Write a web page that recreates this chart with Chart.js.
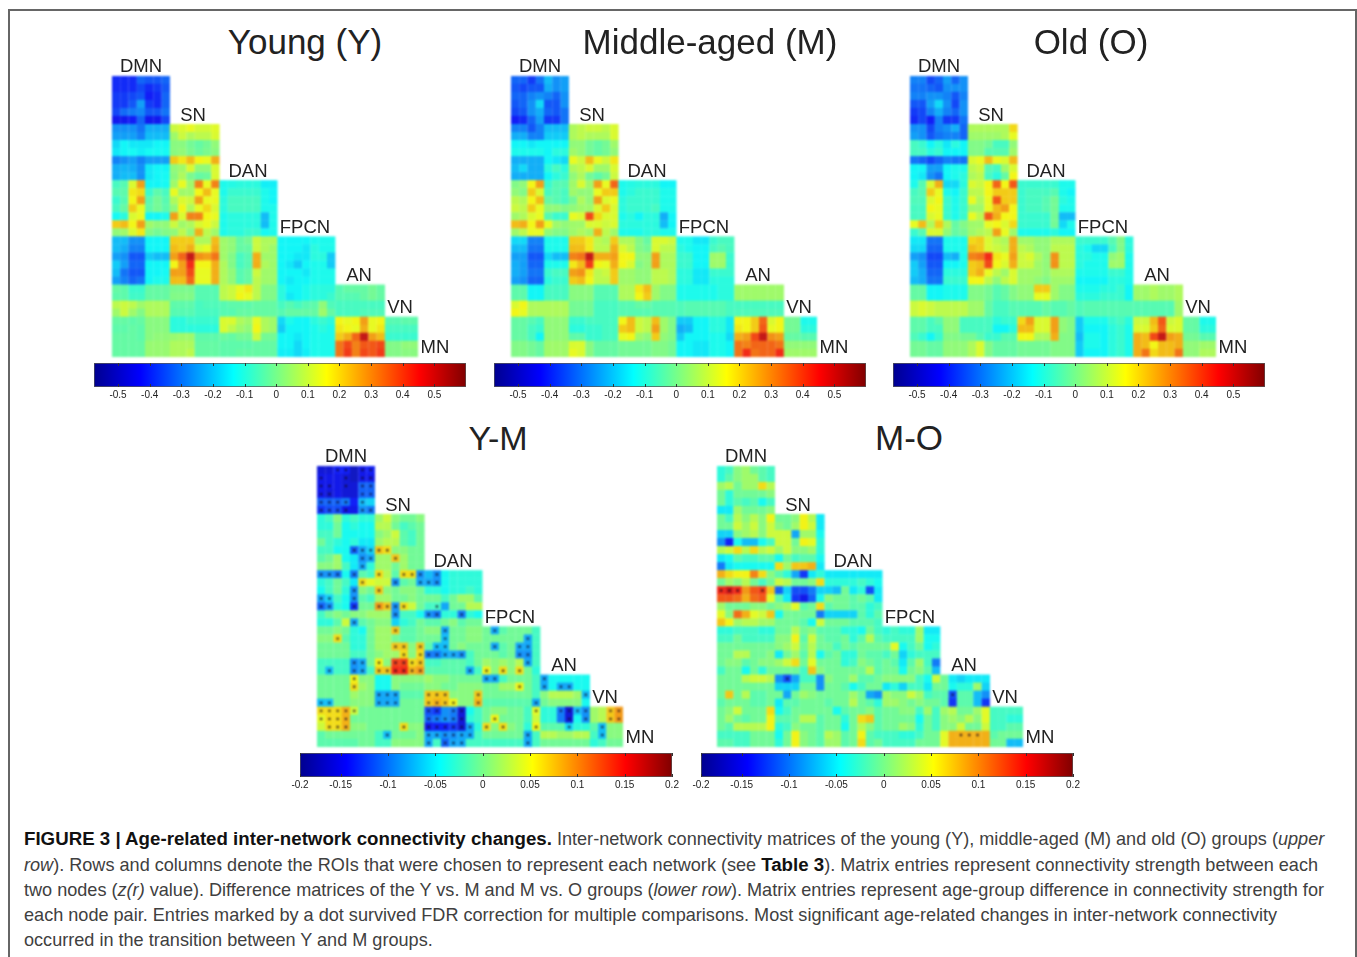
<!DOCTYPE html>
<html>
<head>
<meta charset="utf-8">
<title>Age-related inter-network connectivity changes</title>
<script src="https://cdn.jsdelivr.net/npm/chart.js@4"></script>
<style>
	html, body { margin: 0; padding: 0; background: #fff; }
	body { width: 1357px; height: 957px; position: relative; overflow: hidden; font-family: "Liberation Sans", Arial, sans-serif; }
	#frame { position: absolute; left: 8px; top: 9px; width: 1345px; height: 960px; border: 2px solid #666; box-sizing: content-box; }
	canvas { position: absolute; filter: blur(0.6px); }
	canvas.matrix { filter: blur(1px); }
	.txt { position: absolute; transform: translate(-50%, -50%); white-space: nowrap; color: #222; }
	.cap { position: absolute; left: 24px; white-space: nowrap; font-size: 18.1px; color: #404040; line-height: 20px; }
	.cap b { color: #111; font-size: 18.7px; }
</style>
</head>
<body>
<div id="frame"></div>
<script>
// cell values x100, one list per row
const youngValues = [
	[-42,-42,-42,-34,-36,-36,-34],
	[-42,-42,-42,-38,-42,-40,-36],
	[-40,-40,-38,-36,-44,-42,-34],
	[-40,-40,-36,-26,-40,-42,-34],
	[-38,-33,-31,-29,-36,-36,-32],
	[-46,-46,-44,-34,-46,-46,-38],
	[-28,-28,-28,-32,-24,-24,-24, 12,14,16,13,13,15],
	[-26,-26,-26,-30,-22,-22,-22, 6,12,8,10,10,14],
	[-18,-14,-16,-16,-16,-14,-14, 3,3,0,-2,0,4],
	[-16,-14,-13,-15,-13,-13,-13, 3,4,1,-1,1,3],
	[-30,-28,-26,-30,-26,-26,-26, 24,20,26,18,16,28],
	[-24,-23,-24,-28,-16,-14,-14, 4,6,14,4,4,14],
	[-24,-22,-22,-28,-16,-14,-13, 3,8,1,-2,-1,14],
	[-6,-4,14,30,-14,-14,-13, 6,16,6,34,16,34, -12,-11,-10,-10,-10,-15,-15],
	[-4,-3,20,22,-8,-3,-6, 16,6,6,18,26,16, -12,-8,-8,-8,-8,-12,-14],
	[-8,-4,18,30,-4,0,-4, 8,14,12,30,16,16, -10,-6,-6,-6,-6,-12,-14],
	[-6,-2,24,16,-3,0,-3, 4,18,8,16,22,14, -10,-6,-6,-6,-6,-12,-12],
	[-13,-10,14,16,-14,-14,-12, 30,14,34,34,18,16, -12,-10,-10,-10,-10,-22,-12],
	[24,26,18,30,6,4,4, 12,6,8,14,16,12, -12,-10,-10,-10,-10,-22,-12],
	[4,6,14,20,2,0,2, 4,10,4,28,10,6, -12,-10,-10,-8,-8,-13,-12],
	[-22,-22,-28,-28,-14,-14,-14, 24,24,24,8,8,26, 6,4,-2,0,12,8,8, -14,-14,-14,-14,-12,-12,-12],
	[-22,-24,-30,-30,-14,-14,-14, 26,24,28,14,16,28, 6,4,-2,-2,12,8,6, -14,-14,-14,-16,-10,-12,-12],
	[-26,-28,-36,-36,-20,-22,-22, 30,38,55,32,30,36, 6,2,-6,-4,28,6,6, -14,-14,-16,-16,-10,-10,-20],
	[-20,-26,-34,-34,-14,-14,-14, 18,30,46,18,18,28, 8,2,-6,-4,28,8,6, -14,-16,-20,-14,-12,-12,-20],
	[-22,-32,-36,-36,-14,-14,-13, 30,30,42,16,16,28, 8,4,-4,-2,12,6,6, -14,-14,-14,-16,-12,-12,-12],
	[-26,-30,-34,-32,-14,-12,-12, 26,26,38,16,16,28, 8,4,-4,-2,10,6,6, -14,-16,-14,-14,-12,-12,-12],
	[-2,-3,-8,-8,-2,-2,-2, 1,1,1,-4,-4,-4, 10,12,16,20,10,2,2, -10,-14,-14,-12,-10,-10,-10, -4,-2,-2,-2,0,-2],
	[-3,-3,-7,-7,-2,-2,-2, 2,2,2,-4,-4,-4, 10,12,18,16,10,2,2, -10,-16,-14,-12,-10,-10,-8, -4,-4,-4,-2,0,-2],
	[10,12,10,6,8,8,8, -3,-3,-3,-6,-5,-5, -4,-3,-3,-3,-2,-2,-2, -6,-4,-6,-4,-3,4,-5, -6,-6,-6,-6,-6,-6],
	[6,12,6,2,8,8,8, -4,-4,-4,-6,-6,-6, -4,-4,-2,-2,-2,-2,-2, -4,-2,-2,-2,-2,6,-2, -6,-6,-6,-5,-5,-5],
	[-2,-2,-3,-2,3,3,3, -10,-10,-8,-8,-8,-8, 14,14,8,6,16,8,6, -18,-12,-14,-14,-10,-8,-10, 18,16,18,30,16,18, -4,-4,-3,-3],
	[-3,-3,-2,-3,3,3,3, -10,-10,-10,-10,-10,-10, 14,10,6,4,18,8,6, -20,-14,-14,-14,-12,-10,-12, 20,18,16,28,16,20, -6,-6,-6,-6],
	[-2,-2,-2,-3,3,4,4, 5,6,6,-3,-3,-3, -1,-2,0,0,12,0,0, -14,-14,-16,-14,-12,-12,-12, 24,28,38,55,30,26, -8,-8,-8,-8],
	[-2,-2,-2,-2,5,5,5, 8,8,8,-2,-2,-2, -3,-3,-3,-3,-2,-2,-2, -14,-14,-18,-14,-12,-12,-12, 36,42,34,40,40,42, 2,2,4,4],
	[-2,-2,-2,-2,5,5,5, 8,8,10,-2,-2,-2, -3,-3,-2,-2,-2,-2,-2, -15,-15,-18,-15,-12,-12,-12, 36,44,34,42,40,44, 2,2,3,3]
];

const middleValues = [
	[-34,-34,-40,-32,-22,-28,-26],
	[-36,-38,-36,-36,-24,-28,-26],
	[-34,-34,-30,-28,-30,-34,-28],
	[-36,-34,-28,-18,-36,-36,-28],
	[-38,-36,-28,-24,-34,-36,-32],
	[-44,-42,-34,-26,-40,-40,-32],
	[-30,-30,-36,-30,-22,-22,-22, 8,10,12,12,10,14],
	[-24,-24,-30,-30,-20,-20,-20, 8,10,8,8,8,14],
	[-14,-14,-16,-14,-14,-14,-14, 4,4,0,-2,0,6],
	[-12,-12,-12,-12,-14,-10,-10, 6,4,0,-2,0,4],
	[-24,-24,-24,-24,-14,-16,-18, 16,12,26,16,12,20],
	[-22,-18,-24,-24,-10,-6,-10, 8,10,14,6,6,14],
	[-24,-24,-24,-24,-14,-10,-8, 4,8,0,-3,0,12],
	[2,4,18,30,-8,-4,-4, 6,14,6,30,16,38, -12,-11,-10,-10,-10,-14,-14],
	[4,2,24,14,-6,-4,-6, 6,4,4,16,24,24, -12,-10,-8,-8,-8,-12,-12],
	[10,8,18,26,-2,-4,-6, 0,8,4,30,14,16, -10,-8,-8,-8,-8,-12,-12],
	[12,10,24,16,4,4,2, 4,6,6,14,24,14, -10,-8,-8,-8,-6,-12,-12],
	[6,8,14,16,-4,-8,-8, 16,14,42,22,14,14, -12,-10,-14,-10,-10,-24,-14],
	[26,28,18,30,16,6,4, 6,6,14,14,12,14, -10,-10,-10,-10,-10,-22,-14],
	[6,10,16,16,4,2,2, 6,8,6,28,10,6, -12,-12,-12,-10,-10,-12,-12],
	[-18,-18,-30,-30,-12,-12,-12, 24,24,20,10,8,24, 8,8,2,-2,14,14,12, -12,-12,-16,-16,-8,-6,-6],
	[-22,-22,-32,-32,-12,-12,-12, 26,26,20,10,10,28, 14,10,2,0,14,10,10, -10,-12,-14,-14,-6,-4,-6],
	[-26,-26,-36,-36,-18,-22,-22, 34,36,55,28,28,30, 18,18,4,4,30,8,8, -8,-8,-14,-14,6,6,-8],
	[-24,-26,-34,-34,-12,-12,-12, 20,26,44,18,16,28, 18,14,2,4,30,8,8, -8,-8,-14,-14,6,6,-8],
	[-24,-26,-32,-32,-8,-6,-6, 30,32,20,10,12,24, 6,6,4,4,10,10,8, -10,-10,-16,-16,-8,-8,-8],
	[-26,-28,-34,-34,-10,-8,-8, 24,26,18,10,10,24, 6,6,4,4,10,10,8, -10,-10,-16,-16,-10,-10,-10],
	[-3,-3,-14,-14,-6,-6,-6, 3,3,3,-4,-4,-4, 8,8,20,26,6,2,2, -12,-12,-12,-12,-12,-10,-10, 6,6,6,6,6,6],
	[-3,-3,-14,-14,-6,-6,-6, 3,3,3,-4,-4,-4, 8,8,18,24,6,2,2, -12,-12,-12,-12,-12,-10,-10, 6,6,6,6,6,6],
	[14,18,8,8,8,8,8, 0,0,0,-6,-6,-6, -4,-4,-2,-2,-4,-4,-4, -5,-4,-4,-4,-4,-4,-6, -6,-6,-6,-6,-6,-6],
	[18,16,8,8,8,8,8, 0,0,0,-6,-6,-6, -4,-4,-4,-4,-4,-4,-4, -5,-4,-4,-4,-4,-4,-6, -5,-5,-5,-5,-5,-5],
	[-2,-2,-4,-6,4,4,4, -8,-8,-6,-6,-6,-6, 18,26,12,10,26,6,2, -20,-20,-14,-14,-10,-10,-16, 18,18,24,38,14,18, 0,0,-12,-12],
	[-2,-2,-6,-8,4,4,4, -10,-10,-8,-8,-6,-6, 24,26,12,10,30,6,2, -24,-22,-14,-14,-10,-10,-16, 20,18,24,40,16,18, 0,0,-10,-10],
	[-2,-2,-6,-14,4,4,4, -3,-3,-8,-8,-6,-6, 16,18,6,4,24,4,2, -20,-14,-14,-14,-12,-12,-18, 28,30,42,55,32,30, -2,-2,-4,-4],
	[2,2,0,-2,6,6,6, 14,14,3,-2,-2,-2, 0,0,0,0,2,2,0, -14,-14,-16,-16,-12,-12,-14, 36,34,38,38,38,36, 4,4,4,4],
	[2,2,0,-2,6,6,6, 16,14,3,-2,-2,-2, 0,0,0,0,2,2,0, -14,-14,-16,-16,-12,-12,-14, 36,46,36,38,38,46, 6,6,6,6]
];

const oldValues = [
	[-30,-30,-38,-34,-26,-34,-28],
	[-32,-32,-34,-36,-28,-28,-28],
	[-30,-30,-28,-28,-30,-36,-30],
	[-36,-36,-26,-18,-28,-38,-28],
	[-40,-38,-30,-24,-30,-34,-28],
	[-42,-38,-44,-30,-40,-40,-32],
	[-28,-28,-38,-30,-28,-24,-34, 8,8,8,8,8,22],
	[-26,-28,-36,-32,-30,-30,-34, 6,6,6,6,8,16],
	[-6,-8,-14,-10,-16,-10,-14, 2,2,0,-6,-6,4],
	[-6,-6,-10,-8,-14,-14,-14, 2,2,-4,-4,-4,6],
	[-32,-34,-38,-34,-30,-32,-32, 14,16,26,16,14,26],
	[-14,-14,-26,-26,-14,-12,-12, 10,12,-4,-6,6,14],
	[-14,-16,-28,-32,-14,-12,-10, 8,10,-6,-10,-2,18],
	[-12,-4,14,28,-18,-18,-10, 14,12,18,38,18,40, -8,-8,-8,-8,-8,-12,-12],
	[-6,-4,24,16,-12,-14,-8, 10,10,18,24,24,24, -8,-6,-6,-6,-4,-12,-14],
	[-5,-5,14,18,-8,-12,-8, 16,8,16,40,24,24, -8,-6,-6,-4,0,-10,-12],
	[-6,-6,18,16,-8,-12,-8, 6,6,16,26,30,18, -8,-6,-6,-4,0,-12,-12],
	[-6,-6,14,16,-8,-12,-8, 16,10,40,28,18,18, -8,-8,-8,-8,0,-22,-22],
	[16,26,8,24,8,-2,2, 6,6,16,18,14,22, -8,-8,-8,-8,0,-18,-12],
	[-8,-4,14,14,4,-2,0, 6,8,10,30,16,6, -12,-12,-12,-12,-10,-14,-14],
	[-16,-16,-32,-32,-12,-12,-12, 22,24,14,10,8,28, 6,6,4,4,8,8,8, -8,-8,-8,-8,-4,2,-10],
	[-18,-18,-34,-34,-12,-12,-12, 26,24,14,12,10,28, 10,8,4,4,10,10,10, -10,-12,-18,-18,-6,2,-10],
	[-26,-28,-38,-38,-22,-24,-12, 34,36,46,20,16,30, 12,14,8,4,32,10,10, -10,-10,-12,-12,4,6,-12],
	[-20,-26,-36,-36,-14,-14,-12, 24,26,42,18,14,28, 12,12,6,4,32,10,10, -10,-12,-12,-12,6,6,-12],
	[-20,-24,-34,-34,-10,-10,-10, 24,28,16,10,6,14, 6,6,6,4,8,8,8, -12,-12,-12,-12,-8,-8,-12],
	[-22,-24,-32,-32,-8,-8,-8, 18,18,10,4,10,14, 6,6,4,2,6,6,6, -14,-14,-14,-14,-10,-10,-12],
	[-2,-2,-14,-14,-12,-12,-12, 2,2,0,-4,-2,2, 4,4,24,24,6,2,2, -12,-12,-12,-10,-10,-8,-14, 6,6,8,6,6,8],
	[-2,-2,-14,-14,-12,-12,-12, 2,2,0,-4,-2,2, 4,4,16,16,6,2,2, -10,-10,-10,-8,-8,-8,-14, 6,6,8,6,6,8],
	[12,14,12,10,10,10,10, 6,6,-2,-6,-6,-4, -4,-4,-4,-2,-4,-4,-2, -5,-4,-4,-4,-4,-4,-4, -4,-4,-4,-4,-4,6],
	[12,14,12,10,10,10,10, 6,6,-2,-6,-6,-4, -4,-4,-4,-2,-4,-4,-2, -5,-4,-4,-4,-4,-4,-4, -4,-4,-4,-4,-4,6],
	[-3,-3,-6,-3,4,4,-6, -6,-6,-6,-10,-8,-8, 22,30,14,14,30,4,2, -20,-12,-12,-12,-8,-6,-10, 12,12,26,40,12,14, -2,-2,-12,-12],
	[-3,-3,-6,-6,4,4,-6, -6,-6,-6,-14,-14,-10, 26,26,14,14,30,4,2, -20,-14,-14,-14,-10,-8,-12, 14,14,24,38,14,14, -2,-2,-10,-10],
	[-5,-8,-14,-8,2,2,0, 0,-4,-8,-8,-4,-4, 18,18,8,8,28,2,2, -22,-12,-12,-14,-10,-8,-12, 28,26,42,55,30,28, 0,0,-4,-4],
	[0,0,-2,-2,4,4,4, 8,14,2,-2,-2,-2, 0,0,0,0,2,2,2, -20,-12,-12,-14,-10,-8,-12, 28,26,18,26,26,28, 4,4,6,6],
	[0,0,-2,-2,4,4,4, 8,14,2,-2,-2,-2, 0,0,0,0,2,2,2, -20,-14,-14,-14,-10,-8,-12, 28,36,22,26,26,36, 4,4,8,8]
];

const youngMiddleValues = [
	[-15,-15,-13,-13,-16,-14,-13],
	[-14,-14,-14,-15,-16,-14,-14],
	[-14,-14,-14,-15,-15,-10,-10],
	[-14,-15,-14,-15,-15,-10,-10],
	[-10,-10,-10,-9,-13,-6,-5],
	[-12,-11,-11,-14,-14,-8,-9],
	[-2,-1,2,-2,-1,-2,-2, 3,5,2,1,1,2],
	[-2,-2,1,-3,-2,-3,-3, 4,4,1,-1,0,1],
	[-1,-1,1,-3,-3,-3,-3, 2,3,5,0,-1,1],
	[1,-1,-2,-3,-2,-4,-4, 3,4,4,0,-1,1],
	[-1,-1,-3,-3,-10,-7,-5, 9,8,2,2,1,1],
	[0,1,3,-3,-4,-8,-7, 3,3,9,3,1,1],
	[2,2,3,-1,-4,-7,-2, 3,3,1,3,1,1],
	[-8,-8,-9,-3,-9,0,-1, 8,4,0,8,8,-8, -6,-8,-3,-2,-2,-2,-2],
	[-2,-1,1,-1,-4,8,6, 5,5,-8,0,1,-7, -7,-8,-3,-2,-2,-2,-2],
	[-3,-1,1,-2,-8,2,1, 9,2,1,2,2,1, -2,-2,-3,-2,-2,-1,-2],
	[-7,-5,-1,-3,-8,0,-1, 3,3,1,1,2,1, 1,1,-1,1,3,3,0],
	[-10,-8,-2,-3,-12,1,1, 11,9,-8,8,5,1, -1,-1,-7,1,1,4,4],
	[-1,1,2,1,2,2,3, 3,3,-8,-1,-1,-3, -8,-9,-2,-2,-9,-2,-3],
	[-2,-2,0,5,-7,0,1, 2,2,-5,-2,-1,1, 0,0,1,2,0,1,1],
	[1,1,2,1,-2,-3,1, 3,3,9,0,0,1, 2,2,-7,1,1,2,2, 1,-7,0,1,1,1,-1],
	[2,2,8,0,-2,-2,1, 3,3,1,0,0,1, 1,1,-6,1,1,2,2, 1,1,1,1,1,-7,-1],
	[1,1,1,1,-2,-2,1, 3,3,9,9,2,9, 0,-6,-6,1,2,1,1, 1,-7,0,1,-7,-7,-1],
	[1,1,1,1,-1,-1,1, 2,3,3,8,2,8, -9,-9,-7,-7,-8,-1,1, 1,1,0,1,-8,-8,-1],
	[-1,-1,-1,-1,-8,-7,1, 7,2,15,15,8,9, -1,-1,0,0,0,-1,1, 3,2,3,2,4,-7,-1],
	[-1,-6,-1,-1,-8,-7,-1, 9,9,16,16,10,11, 0,0,0,0,0,-7,-1, 7,2,8,2,8,1,-2],
	[1,1,1,1,7,2,2, -3,-3,2,2,2,2, 3,2,2,1,1,1,1, -7,-7,-1,1,1,1,-1, -7,-3,-3,-3,-3,-3],
	[1,1,1,1,8,3,2, -3,-3,2,1,1,1, 2,2,1,1,2,2,2, 1,1,3,3,7,1,-1, -7,-3,-7,-7,-3,-3],
	[1,1,1,1,3,2,2, -7,-7,-7,0,0,0, 9,9,9,2,2,2,9, 1,1,1,1,1,1,-1, 2,4,4,4,3,-6],
	[-6,-6,1,1,2,2,2, -7,-7,-7,1,1,1, 9,10,9,7,2,2,10, 0,0,0,0,0,0,-7, 1,2,2,2,2,-3],
	[8,8,8,10,5,1,1, 1,1,1,1,1,1, -11,-12,-8,-9,-15,-3,-1, 1,2,2,1,1,-1,6, -2,-2,-9,-15,-6,-8, 3,4,9,11],
	[6,8,8,10,1,1,1, 1,1,1,1,1,1, -10,-9,-8,-9,-15,-2,-1, 1,7,1,1,1,-1,5, -2,-2,-9,-15,-3,-8, 3,4,9,11],
	[5,8,8,10,2,2,1, 1,1,1,8,2,2, -14,-13,-13,-12,-15,-7,-2, 8,2,8,2,1,-2,7, 0,0,0,-5,-2,-2, 0,-6,2,2],
	[0,1,1,1,1,1,1, -1,-6,1,1,1,2, -7,-7,-8,-8,-7,-7,-1, 1,1,1,1,1,-7,-1, 4,4,3,3,4,4, -1,-6,2,2],
	[0,0,0,0,0,1,1, -1,-1,2,2,2,2, -7,-1,-10,-7,-7,-1,-1, -1,-1,-1,-1,-1,-7,-1, 1,1,1,1,1,1, -2,-1,1,1]
];

const middleOldValues = [
	[-2,-1,2,3,1,0,-1],
	[-2,0,2,3,3,0,-1],
	[3,4,1,3,3,8,4],
	[1,-2,1,1,1,1,2],
	[1,-2,0,-1,0,-3,-1],
	[-4,-4,3,1,1,1,2],
	[1,-1,4,2,4,2,7, 1,1,2,7,4,-4],
	[1,1,5,3,5,2,5, 2,1,3,7,5,-4],
	[-5,-5,2,3,4,2,5, 5,5,-7,3,3,-3],
	[-8,-13,-3,-6,-6,-3,-1, 5,5,1,7,6,-2],
	[4,5,8,4,8,4,5, 3,5,2,2,3,-2],
	[-4,-3,0,-1,-1,0,0, -3,1,-1,0,0,-3],
	[-9,-4,-3,-3,-3,-3,-3, 8,3,9,9,10,-4],
	[10,8,7,7,12,8,2, 0,-2,-7,-12,-4,-2, -4,-4,-4,-4,-4,-4,-4],
	[1,3,2,4,1,-1,1, 5,4,1,1,2,8, -2,-2,-2,-2,-1,-2,-3],
	[16,18,16,11,14,15,9, -10,-5,-11,-11,-9,-5, -5,-6,1,-4,-2,-11,-4],
	[14,14,13,10,13,14,6, 0,-4,-12,-14,-10,-3, 2,1,1,0,1,0,-4],
	[3,1,1,1,2,2,1, 2,3,6,0,1,8, 0,1,1,0,0,-2,-1],
	[6,2,13,10,6,5,9, -3,1,1,1,1,-9, -5,-5,-5,-5,0,-2,0],
	[9,7,3,4,4,3,3, 1,1,1,0,-3,5, 1,1,1,0,0,0,-1],
	[-2,-2,-1,-1,-1,-2,-2, 1,1,4,1,2,0, 0,0,-2,-2,-3,1,-1, -2,-1,-2,-2,3,-4,-4],
	[-1,-1,1,-1,-1,-1,-1, 2,2,7,0,5,1, 0,0,1,-2,0,4,0, -1,-1,-1,-1,3,-3,-3],
	[1,1,1,1,1,1,1, 2,3,5,1,4,1, 1,-1,1,0,1,1,1, 1,6,-3,-1,1,-3,-2],
	[1,1,4,4,1,1,2, -4,1,3,0,4,-3, 0,1,-2,-2,1,0,0, -1,1,-5,-2,-1,-1,-1],
	[1,2,2,0,1,2,2, 3,5,8,1,6,1, 1,1,-2,-1,2,1,0, 1,0,-4,0,3,-1,-9],
	[-1,1,1,-3,1,-2,1, 1,1,1,-1,9,2, 1,1,1,1,1,4,0, 1,1,-3,1,2,0,-6],
	[1,1,1,4,5,5,4, -8,-11,-7,-1,-1,-8, 2,1,1,3,0,0,1, 2,2,2,2,-1,-3,5, 1,-4,-5,-4,-4,-4],
	[1,1,1,1,1,1,1, -5,-5,-5,1,1,-8, 1,1,0,-3,-1,1,1, -4,-2,-5,-1,-1,-4,1, 1,-3,-2,-2,3,-5],
	[1,9,1,4,0,0,1, 1,-7,1,3,2,1, 1,1,1,3,1,-7,-8, 3,2,2,5,3,-1,0, 0,-11,0,0,-6,-8],
	[0,1,1,1,0,0,1, -4,0,0,1,1,1, 0,1,1,4,1,0,-2, 3,3,2,1,2,1,1, 0,-12,0,0,-6,-12],
	[1,2,5,1,1,1,8, -3,-1,1,1,1,1, 1,-3,0,1,1,2,0, 1,1,2,2,-1,3,-1, 3,4,1,1,3,6, -1,-1,-1,-1],
	[1,3,1,0,1,1,7, 0,0,1,4,4,0, 1,1,-2,1,8,9,0, 1,1,1,1,-3,1,-1, 2,3,2,4,2,6, -1,-1,-2,-2],
	[1,0,4,4,4,4,7, -2,-1,2,1,1,0, 1,1,-3,1,4,2,0, 1,1,3,2,-2,1,-1, 2,2,5,1,1,5, -1,-1,0,0],
	[-1,-1,-1,-1,1,1,1, -3,1,7,2,1,0, 4,3,0,1,7,0,-1, -1,-1,-2,-2,-1,1,1, 6,10,10,10,10,10, 0,1,1,1],
	[0,0,-1,-1,1,1,1, -2,1,7,2,1,0, 3,3,0,1,8,0,1, -1,-1,-1,-1,1,1,1, 6,10,10,10,10,10, 1,1,-6,-6]
];

// significant entries, columns per row
const youngMiddleDots = [
	[2,3,5,6], [0,3,5,6], [0,1,3,5,6], [0,1,5,6], [0,1,2,3,5], [0,1,2,3,5,6],
	[], [], [], [],
	[4,5,6,7,8], [5,6,9], [5],
	[0,1,2,4,7,10,11,12,14], [5,9,12,13,14], [4,7], [0,1,4], [0,1,4,7,8,9,10,14],
	[9,13,14,17], [4], [9,15,21], [2,15,25],
	[9,10,12,14,15,21,24,25], [10,12,13,14,15,16,17,24,25],
	[4,5,7,9,10,11,12,25], [1,4,5,7,8,9,10,11,12,18,20,22,24],
	[4,20,21,27], [4,24,27,29,30], [7,8,9,13,14,15,19,32], [0,1,7,8,9,13,14,15,16,19,26],
	[0,1,2,3,4,13,14,16,17,26,29,30,31,32,35,36], [0,1,2,3,13,14,15,16,17,21,30,32,35,36],
	[1,2,3,10,13,14,15,16,17,18,20,22,26,30,34], [8,13,14,15,16,17,18,25,34], [13,15,16,17,25]
];
const middleOldDots = [
	[], [], [], [], [], [], [], [], [], [], [], [], [], [], [],
	[0,1,2,5], [], [], [], [], [], [], [], [], [], [], [8], [], [28], [], [], [], [], [29,30,31], []
];

const networkLabels = ["DMN", "SN", "DAN", "FPCN", "AN", "VN", "MN"];
const upperTicks = [-0.5, -0.4, -0.3, -0.2, -0.1, 0, 0.1, 0.2, 0.3, 0.4, 0.5];
const upperTickLabels = ["-0.5", "-0.4", "-0.3", "-0.2", "-0.1", "0", "0.1", "0.2", "0.3", "0.4", "0.5"];
const lowerTicks = [-0.193, -0.15, -0.1, -0.05, 0, 0.05, 0.1, 0.15, 0.2];
const lowerTickLabels = ["-0.2", "-0.15", "-0.1", "-0.05", "0", "0.05", "0.1", "0.15", "0.2"];

const CELL_COLS = 37, CELL_ROWS = 35;
const MATRIX_W = 306, MATRIX_H = 281;
const JET = [[0, [0, 0, 143]], [0.125, [0, 0, 255]], [0.375, [0, 255, 255]], [0.625, [255, 255, 0]], [0.875, [255, 0, 0]], [1, [128, 0, 0]]];
const SOFT_TINT = [150, 210, 190];

function jet(t) {
	t = Math.max(0, Math.min(1, t));
	for (let i = 1; i < JET.length; i++) {
		if (t <= JET[i][0]) {
			const f = (t - JET[i - 1][0]) / (JET[i][0] - JET[i - 1][0]);
			const a = JET[i - 1][1], b = JET[i][1];
			// the source image is a washed-out jpeg, so pull cells a little to a pale tint
			return `rgb(${a.map((c, k) => Math.round((c + (b[k] - c) * f) * 0.88 + SOFT_TINT[k] * 0.12)).join(",")})`;
		}
	}
	return "rgb(128,0,0)";
}

function addCanvas(left, top, w, h) {
	const c = document.createElement("canvas");
	c.width = w; c.height = h;
	c.style.left = left + "px"; c.style.top = top + "px";
	c.style.width = w + "px"; c.style.height = h + "px";
	document.body.appendChild(c);
	return c;
}

function addText(text, cx, cy, size) {
	const d = document.createElement("div");
	d.className = "txt";
	d.textContent = text;
	d.style.left = cx + "px"; d.style.top = cy + "px"; d.style.fontSize = size + "px";
	document.body.appendChild(d);
}

function createMatrix(left, top, rows, dots, vmin, vmax) {
	const cells = [];
	rows.forEach((row, r) => row.forEach((v, c) => cells.push({ x: c + 0.5, y: r + 0.5, v: v / 100 })));
	const marks = [];
	dots.forEach((cols, r) => cols.forEach((c) => marks.push({ x: c + 0.5, y: r + 0.5 })));
	const canvas = addCanvas(left, top, MATRIX_W, MATRIX_H);
	canvas.className = "matrix";
	new Chart(canvas, {
		type: "scatter",
		data: {
			datasets: [
				{
					data: marks,
					pointStyle: "circle",
					pointRadius: 1.2,
					pointBackgroundColor: "rgba(20,10,40,0.9)",
					pointBorderWidth: 0,
					order: 0,
				},
				{
					data: cells,
					pointStyle: "rect",
					pointRadius: (MATRIX_W / CELL_COLS + 0.15) / Math.SQRT2,
					pointBorderWidth: 0,
					pointBackgroundColor: (ctx) => jet((ctx.raw.v - vmin) / (vmax - vmin)),
					order: 1,
				},
			],
		},
		options: {
			responsive: false,
			animation: false,
			layout: { padding: 0, autoPadding: false },
			plugins: { legend: { display: false }, tooltip: { enabled: false } },
			scales: {
				x: { type: "linear", min: 0, max: CELL_COLS, display: false },
				y: { type: "linear", min: 0, max: CELL_ROWS, reverse: true, display: false },
			},
		},
	});
	const off = [[29, -10], [81, 39], [136, 95], [193, 151], [247, 199], [288, 231], [323, 271]];
	networkLabels.forEach((n, i) => addText(n, left + off[i][0], top + off[i][1], 18.5));
}

// ticks drawn inward from both edges of the bar, like the source figure
const innerTicks = {
	id: "innerTicks",
	afterDatasetsDraw(chart) {
		const { ctx, chartArea: a, scales } = chart;
		ctx.save();
		ctx.strokeStyle = "#333";
		ctx.lineWidth = 1;
		scales.x.ticks.forEach((t) => {
			const px = Math.round(scales.x.getPixelForValue(t.value)) + 0.5;
			ctx.beginPath();
			ctx.moveTo(px, a.top); ctx.lineTo(px, a.top + 3);
			ctx.moveTo(px, a.bottom); ctx.lineTo(px, a.bottom - 3);
			ctx.stroke();
		});
		ctx.restore();
	},
};

function createColorbar(left, top, barMin, barMax, tickValues, tickLabels) {
	const PAD = 40, BAR_W = 372, BAR_H = 24;
	new Chart(addCanvas(left - PAD, top, BAR_W + PAD * 2, BAR_H + 18), {
		type: "bar",
		data: {
			labels: [""],
			datasets: [
				{
					data: [[barMin, barMax]],
					borderSkipped: false,
					borderWidth: 1,
					borderColor: "#555",
					categoryPercentage: 1,
					barPercentage: 1,
					backgroundColor: (ctx) => {
						const a = ctx.chart.chartArea;
						if (!a) return "#000";
						const g = ctx.chart.ctx.createLinearGradient(a.left, 0, a.right, 0);
						JET.forEach((s) => g.addColorStop(s[0], `rgb(${s[1].join(",")})`));
						return g;
					},
				},
			],
		},
		plugins: [innerTicks],
		options: {
			indexAxis: "y",
			responsive: false,
			animation: false,
			layout: { padding: { left: PAD, right: PAD, top: 0, bottom: 0 } },
			plugins: { legend: { display: false }, tooltip: { enabled: false } },
			scales: {
				y: { display: false },
				x: {
					type: "linear",
					min: barMin,
					max: barMax,
					grid: { display: false, drawTicks: false, tickLength: 0 },
					border: { display: false },
					afterBuildTicks: (axis) => { axis.ticks = tickValues.map((v) => ({ value: v })); },
					afterFit: (axis) => { axis.height = 18; },
					ticks: {
						autoSkip: false,
						maxRotation: 0,
						padding: 2,
						color: "#222",
						font: { family: "Liberation Sans", size: 10 },
						callback: (value, i) => tickLabels[i],
					},
				},
			},
		},
	});
}

document.addEventListener("DOMContentLoaded", function () {
	const UP_MIN = -0.576, UP_MAX = 0.6;
	// cells lean a touch colder than the bar, the way the source renders its greens
	createMatrix(112, 76, youngValues, [], -0.6, 0.64);
	createMatrix(511, 76, middleValues, [], -0.6, 0.64);
	createMatrix(910, 76, oldValues, [], -0.6, 0.64);
	createMatrix(317, 466, youngMiddleValues, youngMiddleDots, -0.183, 0.217);
	createMatrix(717, 466, middleOldValues, middleOldDots, -0.183, 0.217);

	createColorbar(94, 363, UP_MIN, UP_MAX, upperTicks, upperTickLabels);
	createColorbar(494, 363, UP_MIN, UP_MAX, upperTicks, upperTickLabels);
	createColorbar(893, 363, UP_MIN, UP_MAX, upperTicks, upperTickLabels);
	createColorbar(300, 753, -0.193, 0.2, lowerTicks, lowerTickLabels);
	createColorbar(701, 753, -0.193, 0.2, lowerTicks, lowerTickLabels);

	addText("Young (Y)", 305, 42, 35);
	addText("Middle-aged (M)", 710, 42, 35);
	addText("Old (O)", 1091, 42, 35);
	addText("Y-M", 498, 438, 34);
	addText("M-O", 909, 438, 35);

	const caption = [
		'<b>FIGURE 3 | Age-related inter-network connectivity changes.</b> Inter-network connectivity matrices of the young (Y), middle-aged (M) and old (O) groups (<i>upper</i>',
		'<i>row</i>). Rows and columns denote the ROIs that were chosen to represent each network (see <b>Table 3</b>). Matrix entries represent connectivity strength between each',
		'two nodes (<i>z(r)</i> value). Difference matrices of the Y vs. M and M vs. O groups (<i>lower row</i>). Matrix entries represent age-group difference in connectivity strength for',
		'each node pair. Entries marked by a dot survived FDR correction for multiple comparisons. Most significant age-related changes in inter-network connectivity',
		'occurred in the transition between Y and M groups.',
	];
	const captionTops = [829, 855, 880, 905, 930];
	caption.forEach((line, i) => {
		const d = document.createElement("div");
		d.className = "cap";
		d.innerHTML = line;
		d.style.top = captionTops[i] + "px";
		document.body.appendChild(d);
	});
});
</script>
</body>
</html>
